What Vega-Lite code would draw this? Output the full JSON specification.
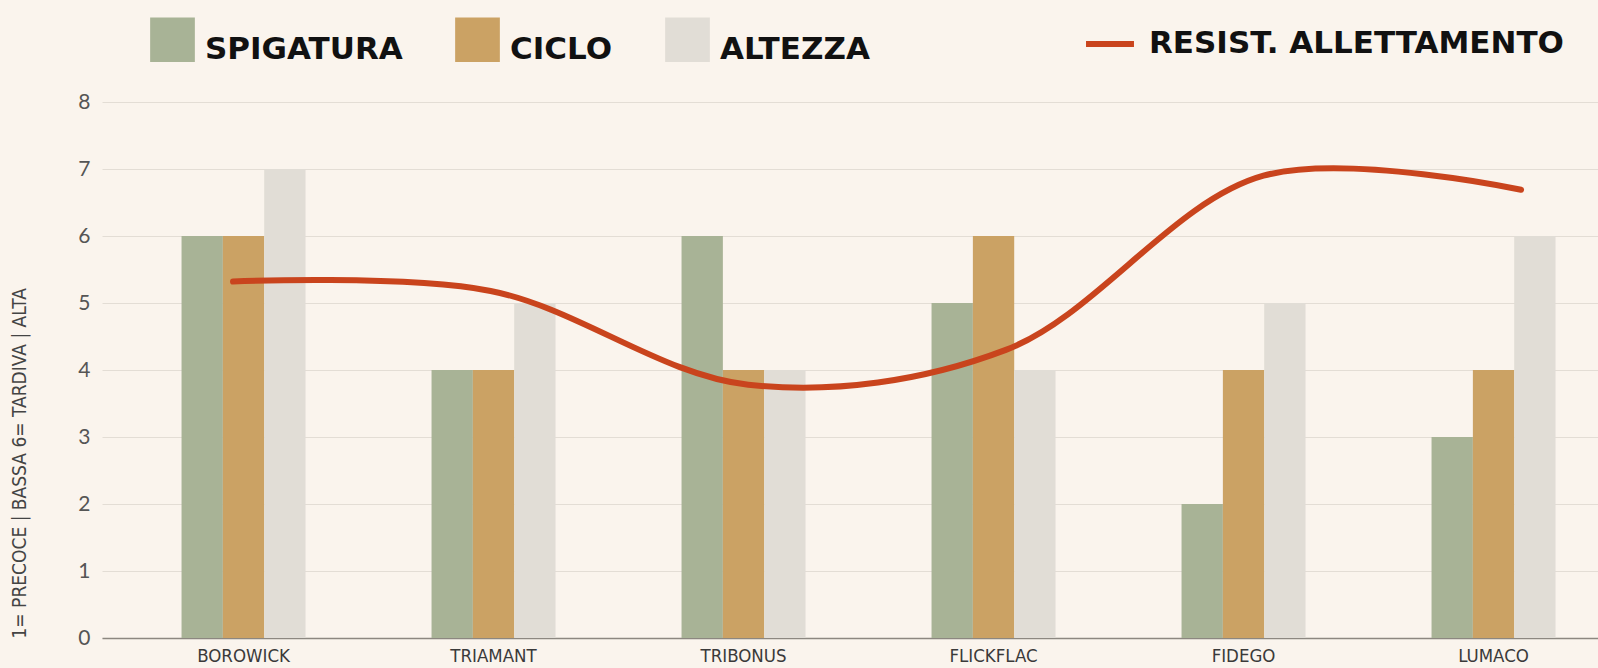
{
  "$schema": "https://vega.github.io/schema/vega-lite/v6.json",
  "autosize": {"type": "none"},
  "width": 1496,
  "height": 536,
  "padding": {"left": 102, "top": 102, "right": 0, "bottom": 30},
  "background": "#faf4ed",
  "config": {
    "view": {"stroke": null},
    "axis": {"labelFont": "Lato", "titleFont": "DejaVu Sans Condensed"}
  },
  "datasets": {
    "bars": [
      {"varieta": "BOROWICK", "serie": "SPIGATURA", "valore": 6},
      {"varieta": "BOROWICK", "serie": "CICLO", "valore": 6},
      {"varieta": "BOROWICK", "serie": "ALTEZZA", "valore": 7},
      {"varieta": "TRIAMANT", "serie": "SPIGATURA", "valore": 4},
      {"varieta": "TRIAMANT", "serie": "CICLO", "valore": 4},
      {"varieta": "TRIAMANT", "serie": "ALTEZZA", "valore": 5},
      {"varieta": "TRIBONUS", "serie": "SPIGATURA", "valore": 6},
      {"varieta": "TRIBONUS", "serie": "CICLO", "valore": 4},
      {"varieta": "TRIBONUS", "serie": "ALTEZZA", "valore": 4},
      {"varieta": "FLICKFLAC", "serie": "SPIGATURA", "valore": 5},
      {"varieta": "FLICKFLAC", "serie": "CICLO", "valore": 6},
      {"varieta": "FLICKFLAC", "serie": "ALTEZZA", "valore": 4},
      {"varieta": "FIDEGO", "serie": "SPIGATURA", "valore": 2},
      {"varieta": "FIDEGO", "serie": "CICLO", "valore": 4},
      {"varieta": "FIDEGO", "serie": "ALTEZZA", "valore": 5},
      {"varieta": "LUMACO", "serie": "SPIGATURA", "valore": 3},
      {"varieta": "LUMACO", "serie": "CICLO", "valore": 4},
      {"varieta": "LUMACO", "serie": "ALTEZZA", "valore": 6}
    ],
    "linea": [
      {"varieta": "BOROWICK", "serie": "RESIST. ALLETTAMENTO", "valore": 5.32},
      {"varieta": "TRIAMANT", "serie": "RESIST. ALLETTAMENTO", "valore": 5.18},
      {"varieta": "TRIBONUS", "serie": "RESIST. ALLETTAMENTO", "valore": 3.78},
      {"varieta": "FLICKFLAC", "serie": "RESIST. ALLETTAMENTO", "valore": 4.3},
      {"varieta": "FIDEGO", "serie": "RESIST. ALLETTAMENTO", "valore": 6.9},
      {"varieta": "LUMACO", "serie": "RESIST. ALLETTAMENTO", "valore": 6.69}
    ]
  },
  "layer": [
    {
      "data": {"name": "bars"},
      "mark": {"type": "bar"},
      "encoding": {
        "x": {
          "field": "varieta", "type": "nominal", "sort": null,
          "scale": {"paddingInner": 0.504, "paddingOuter": 0.244, "align": 0.652},
          "axis": {
            "title": null, "labelAngle": 0, "ticks": false, "grid": false,
            "domainColor": "#8c8780", "domainWidth": 1.5,
            "labelFont": "DejaVu Sans Condensed", "labelFontWeight": 300, "labelFontSize": 18.5, "labelColor": "#3a3a3a",
            "labelPadding": 8
          }
        },
        "xOffset": {
          "field": "serie", "type": "nominal",
          "sort": ["SPIGATURA", "CICLO", "ALTEZZA"],
          "scale": {"paddingInner": 0, "paddingOuter": 0}
        },
        "y": {
          "field": "valore", "type": "quantitative",
          "scale": {"domain": [0, 8]},
          "axis": {
            "values": [0, 1, 2, 3, 4, 5, 6, 7, 8], "format": "d",
            "title": "1= PRECOCE | BASSA     6= TARDIVA | ALTA",
            "titleFont": "DejaVu Sans Condensed", "titleFontWeight": 300,
            "titleFontSize": 19, "titleColor": "#444", "titleAnchor": "start",
            "titlePadding": 48,
            "domain": false, "ticks": false,
            "labelFontSize": 21, "labelFontWeight": "normal", "labelColor": "#555", "labelPadding": 12,
            "gridColor": "#e3ddd5", "gridWidth": 1.2
          }
        },
        "color": {
          "field": "serie", "type": "nominal",
          "scale": {"domain": ["SPIGATURA", "CICLO", "ALTEZZA"], "range": ["#a8b396", "#cba264", "#e1ddd6"]},
          "legend": {
            "title": null, "orient": "none", "direction": "horizontal",
            "legendX": 48, "legendY": -85,
            "symbolType": "square", "symbolSize": 2000, "symbolStrokeWidth": 0,
            "labelFont": "DejaVu Sans", "labelFontWeight": "bold", "labelFontSize": 31, "labelColor": "#111",
            "labelOffset": 10, "columnPadding": 52, "labelLimit": 400,
            "encode": {"labels": {"update": {"dy": {"value": 10}}}}
          }
        }
      }
    },
    {
      "data": {"name": "linea"},
      "mark": {"type": "line", "interpolate": "catmull-rom", "strokeWidth": 6, "strokeCap": "round"},
      "encoding": {
        "x": {
          "field": "varieta", "type": "nominal", "sort": null,
          "scale": {"type": "point", "padding": 0.4037, "align": 0.63},
          "axis": null
        },
        "y": {"field": "valore", "type": "quantitative"},
        "stroke": {
          "field": "serie", "type": "nominal",
          "scale": {"range": ["#c9441d"]},
          "legend": {
            "title": null, "orient": "none", "legendX": 981, "legendY": -85,
            "symbolType": "stroke", "symbolSize": 2300, "symbolStrokeWidth": 6,
            "labelFont": "DejaVu Sans", "labelFontWeight": "bold", "labelFontSize": 31, "labelColor": "#111",
            "labelOffset": 12, "labelLimit": 600
          }
        }
      }
    }
  ],
  "resolve": {"scale": {"x": "independent"}}
}
